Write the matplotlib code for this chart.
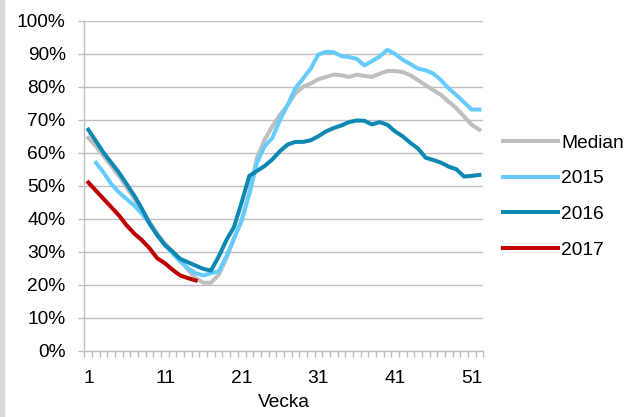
import matplotlib
matplotlib.use("Agg")
import matplotlib.pyplot as plt
import numpy as np
from matplotlib.patches import Rectangle

plt.rcParams['font.family'] = ['Liberation Sans', 'DejaVu Sans']

weeks = np.arange(1, 53)
median = [64.5, 62, 59, 56, 53, 49.5, 46, 42.5, 39, 35.5, 32.5, 30, 27.5, 24.5, 22,
          20.6, 20.6, 23, 28, 34, 39.5, 48, 58.5, 64, 68, 71.5, 74.5, 78, 80, 81,
          82.3, 83, 83.7, 83.5, 83, 83.7, 83.3, 83, 84, 84.8, 84.8, 84.5, 83.5, 82,
          80.5, 79, 77.5, 75.5, 73.5, 71, 68.5, 67]
y2015 = [np.nan, 57, 54, 50.5, 48, 46, 44, 41.5, 38.5, 35, 32, 29.5, 27, 25, 23.5,
         22.8, 23.5, 24, 28.5, 34, 39.5, 47.5, 57, 62, 64.5, 70, 74.5, 79.5, 82.5,
         85.5, 89.8, 90.6, 90.5, 89.3, 89, 88.5, 86.5, 87.8, 89.2, 91.2, 90, 88.2,
         86.9, 85.5, 85, 84, 82, 79.5, 77.5, 75.3, 73.1, 73.1]
y2016 = [67, 63.5, 60, 57, 54, 50.5, 47, 43, 38.5, 35, 32, 30, 27.8, 26.8, 25.8,
         24.8, 24.3, 28.5, 33.5, 37.5, 45, 53, 54.5, 56, 58, 60.5, 62.5, 63.3, 63.3,
         63.8, 65, 66.5, 67.5, 68.3, 69.3, 69.8, 69.7, 68.6, 69.3, 68.5, 66.5, 65,
         63, 61.3, 58.5, 57.8, 57, 55.8, 55, 52.8, 53, 53.3]
y2017 = [51, 48.5, 46, 43.5, 41, 38, 35.5, 33.5, 31, 28, 26.5, 24.5, 22.8, 22, 21.3]

fig = plt.figure(figsize=(6.4, 4.17), dpi=100)
ax = fig.add_axes([0.132, 0.159, 0.623, 0.791])

# grå kant till vänster
fig.patches.append(Rectangle((0, 0), 4 / 640, 1, transform=fig.transFigure,
                             color='#d9d9d9', zorder=0))

ax.plot(weeks, np.array(median) / 100, color='#bfbfbf', lw=2.9, label='Median')
ax.plot(weeks, np.array(y2015) / 100, color='#66ccff', lw=2.9, label='2015')
ax.plot(weeks, np.array(y2016) / 100, color='#0d88b2', lw=2.9, label='2016')
ax.plot(weeks[:len(y2017)], np.array(y2017) / 100, color='#c00000', lw=2.9, label='2017')

ax.set_xlim(0.5, 52.5)
ax.set_ylim(0, 1)
ax.set_yticks(np.arange(0, 1.01, 0.1))
ax.set_yticklabels([f'{int(round(v * 100))}%' for v in np.arange(0, 1.01, 0.1)])
ax.set_xticks([1, 11, 21, 31, 41, 51])
ax.set_xticks(np.arange(0.5, 53, 1), minor=True)
ax.tick_params(axis='x', which='major', length=0, pad=14, labelsize=13.8)
ax.tick_params(axis='x', which='minor', length=4.5, color='#bfbfbf', width=1)
ax.tick_params(axis='y', length=4.5, color='#bfbfbf', width=1, pad=9, labelsize=13.8)

ax.grid(axis='y', color='#bfbfbf', lw=1)
ax.set_axisbelow(True)
for s in ['top', 'right']:
    ax.spines[s].set_visible(False)
for s in ['left', 'bottom']:
    ax.spines[s].set_color('#bfbfbf')
    ax.spines[s].set_linewidth(1)

ax.set_xlabel('Vecka', fontsize=13.8, labelpad=5)

ax.legend(loc='upper left', bbox_to_anchor=(0.786, 0.678), bbox_transform=fig.transFigure,
          frameon=False, fontsize=13.8, handlelength=2.85, handletextpad=0.2,
          labelspacing=0.95, borderpad=0, borderaxespad=0)

fig.savefig('out.png', dpi=100)
